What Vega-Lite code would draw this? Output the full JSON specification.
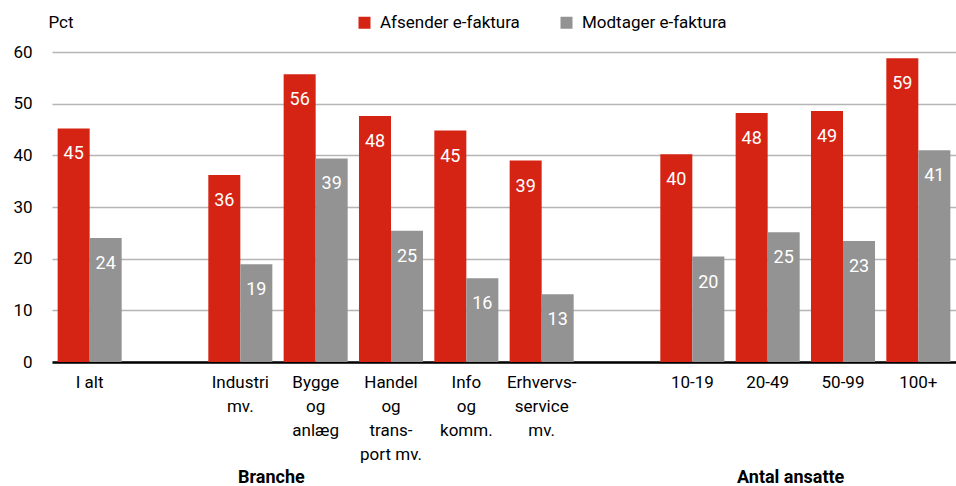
{
  "$schema": "https://vega.github.io/schema/vega-lite/v6.json",
  "width": 904,
  "height": 310,
  "autosize": {"type": "none"},
  "padding": {"left": 52, "top": 52, "right": 0, "bottom": 124},
  "background": "white",
  "config": {
    "font": "Roboto",
    "view": {"stroke": null}
  },
  "datasets": {
    "bars": [
      {"kat": "I alt", "serie": "Afsender e-faktura", "value": 45.2},
      {"kat": "I alt", "serie": "Modtager e-faktura", "value": 24.0},
      {"kat": "Industri|mv.", "serie": "Afsender e-faktura", "value": 36.2},
      {"kat": "Industri|mv.", "serie": "Modtager e-faktura", "value": 18.9},
      {"kat": "Bygge|og|anlæg", "serie": "Afsender e-faktura", "value": 55.7},
      {"kat": "Bygge|og|anlæg", "serie": "Modtager e-faktura", "value": 39.4},
      {"kat": "Handel|og|trans-|port mv.", "serie": "Afsender e-faktura", "value": 47.6},
      {"kat": "Handel|og|trans-|port mv.", "serie": "Modtager e-faktura", "value": 25.4},
      {"kat": "Info|og|komm.", "serie": "Afsender e-faktura", "value": 44.8},
      {"kat": "Info|og|komm.", "serie": "Modtager e-faktura", "value": 16.2},
      {"kat": "Erhvervs-|service|mv.", "serie": "Afsender e-faktura", "value": 39.0},
      {"kat": "Erhvervs-|service|mv.", "serie": "Modtager e-faktura", "value": 13.1},
      {"kat": "10-19", "serie": "Afsender e-faktura", "value": 40.2},
      {"kat": "10-19", "serie": "Modtager e-faktura", "value": 20.4},
      {"kat": "20-49", "serie": "Afsender e-faktura", "value": 48.2},
      {"kat": "20-49", "serie": "Modtager e-faktura", "value": 25.1},
      {"kat": "50-99", "serie": "Afsender e-faktura", "value": 48.6},
      {"kat": "50-99", "serie": "Modtager e-faktura", "value": 23.4},
      {"kat": "100+", "serie": "Afsender e-faktura", "value": 58.8},
      {"kat": "100+", "serie": "Modtager e-faktura", "value": 41.0}
    ],
    "groups": [
      {"kat": "Industri|mv.", "label": "Branche", "pos": -22.45},
      {"kat": "20-49", "label": "Antal ansatte", "pos": -22.45}
    ]
  },
  "layer": [
    {
      "data": {"name": "bars"},
      "mark": {"type": "bar"},
      "encoding": {
        "x": {
          "field": "kat",
          "type": "nominal",
          "sort": null,
          "scale": {
            "domain": ["I alt", "_1", "Industri|mv.", "Bygge|og|anlæg", "Handel|og|trans-|port mv.", "Info|og|komm.", "Erhvervs-|service|mv.", "_2", "10-19", "20-49", "50-99", "100+"],
            "paddingInner": 0.15,
            "paddingOuter": 0.075
          },
          "axis": {
            "title": null,
            "labelAngle": 0,
            "labelExpr": "indexof(datum.label, '_') == 0 ? '' : split(datum.label, '|')",
            "labelFontSize": 17,
            "labelColor": "#000000",
            "labelPadding": 12,
            "labelLineHeight": 24,
            "labelBaseline": "top",
            "ticks": false,
            "domainColor": "#000000",
            "domainWidth": 2.5,
            "grid": false
          }
        },
        "xOffset": {"field": "serie", "type": "nominal", "scale": {"domain": ["Afsender e-faktura", "Modtager e-faktura"], "paddingInner": 0, "paddingOuter": 0}},
        "y": {
          "field": "value",
          "type": "quantitative",
          "scale": {"domain": [0, 60], "nice": false},
          "axis": {
            "title": "Pct",
            "titleAngle": 0,
            "titleAlign": "left",
            "titleBaseline": "middle",
            "titleX": -4,
            "titleY": -30,
            "titleFontSize": 17,
            "titleFontWeight": "normal",
            "titleColor": "#000000",
            "values": [0, 10, 20, 30, 40, 50, 60],
            "labelFontSize": 17,
            "labelColor": "#000000",
            "labelPadding": 20,
            "ticks": false,
            "domain": false,
            "grid": true,
            "gridColor": "#b5b5b5",
            "gridWidth": 1.5
          }
        },
        "color": {
          "field": "serie",
          "type": "nominal",
          "scale": {"domain": ["Afsender e-faktura", "Modtager e-faktura"], "range": ["#d52414", "#939393"]},
          "legend": {
            "title": null,
            "orient": "none",
            "direction": "horizontal",
            "legendX": 304,
            "legendY": -38,
            "symbolType": "square",
            "symbolSize": 144,
            "symbolStrokeWidth": 0,
            "labelFontSize": 17,
            "labelColor": "#000000",
            "labelOffset": 7,
            "columnPadding": 38
          }
        }
      }
    },
    {
      "data": {"name": "bars"},
      "mark": {"type": "text", "color": "white", "fontSize": 18, "baseline": "top", "dy": 17},
      "encoding": {
        "x": {"field": "kat", "type": "nominal", "sort": null},
        "xOffset": {"field": "serie", "type": "nominal"},
        "y": {"field": "value", "type": "quantitative"},
        "text": {"field": "value", "type": "quantitative", "format": ".0f"}
      }
    },
    {
      "data": {"name": "groups"},
      "transform": [{"filter": "datum.label == 'Branche'"}],
      "mark": {"type": "text", "fontSize": 18, "fontWeight": "bold", "color": "#000000", "baseline": "middle", "align": "center", "dx": 31},
      "encoding": {
        "x": {"field": "kat", "type": "nominal", "sort": null},
        "y": {"field": "pos", "type": "quantitative"},
        "text": {"field": "label"}
      }
    },
    {
      "data": {"name": "groups"},
      "transform": [{"filter": "datum.label == 'Antal ansatte'"}],
      "mark": {"type": "text", "fontSize": 18, "fontWeight": "bold", "color": "#000000", "baseline": "middle", "align": "center", "dx": 23},
      "encoding": {
        "x": {"field": "kat", "type": "nominal", "sort": null},
        "y": {"field": "pos", "type": "quantitative"},
        "text": {"field": "label"}
      }
    }
  ]
}
